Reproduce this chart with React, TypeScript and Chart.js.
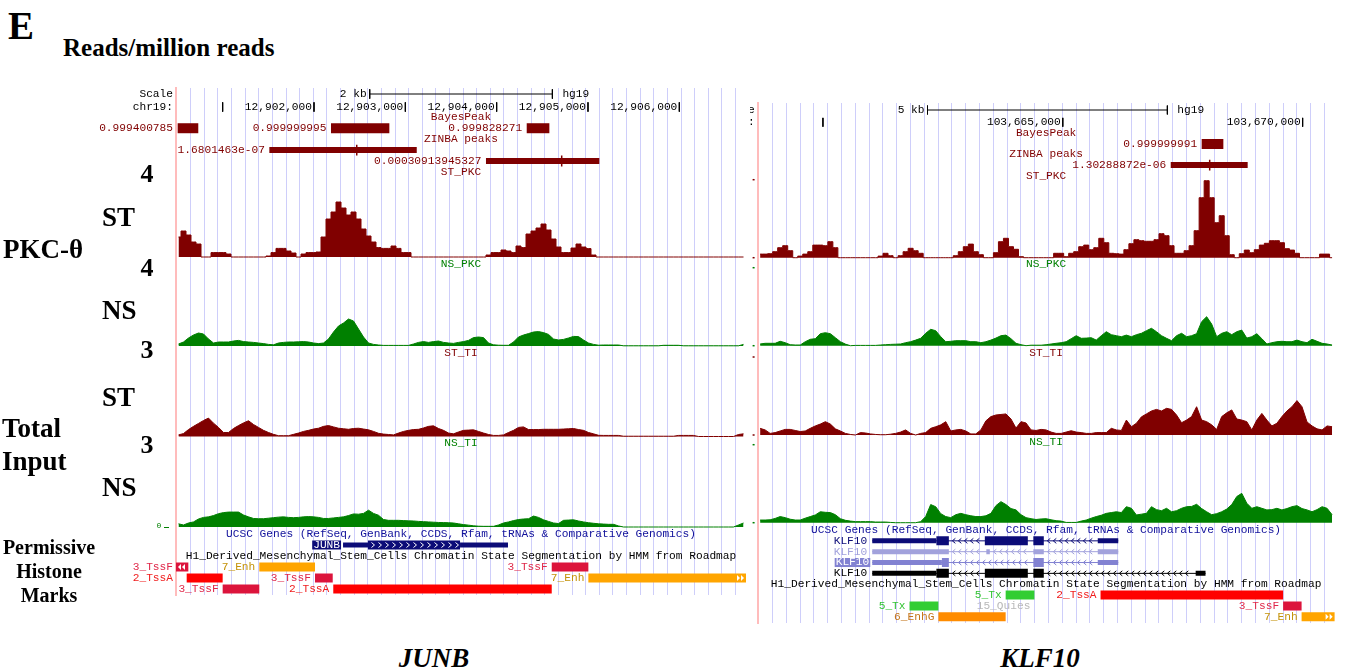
import React, { useEffect, useRef } from "react";
import { Chart, registerables } from "chart.js";

Chart.register(...registerables);

// ================= DATA =================
// ---- Left locus: JUNB (chr19, hg19) ----
const JUNB_CHROM = "chr19:";
const JUNB_VIEW = [12900489, 12906730];
const JUNB_COORD_TICKS = [12901000, 12902000, 12903000, 12904000, 12905000, 12906000];
const JUNB_SCALE_BAR = [12902610, 12904610];
const JUNB_SCALE_LABEL = "2 kb";

// signal values (reads/million), equal bins across the view
const JUNB_ST_PKC = [
  1.0, 1.3, 1.1, 0.75, 0.65, 0, 0, 0.22, 0.22, 0.22,
  0.15, 0, 0, 0, 0, 0, 0, 0, 0.05, 0.22,
  0.43, 0.43, 0.3, 0.2, 0, 0.15, 0.22, 0.22, 0.25, 1.0,
  1.9, 2.25, 2.75, 2.45, 2.1, 2.25, 1.9, 1.4, 1.05, 0.75,
  0.47, 0.43, 0.43, 0.55, 0.43, 0.22, 0.22, 0, 0, 0,
  0, 0, 0, 0, 0, 0, 0, 0, 0, 0,
  0, 0, 0.1, 0.22, 0.22, 0.35, 0.3, 0.22, 0.55, 0.47,
  1.15, 1.3, 1.45, 1.65, 1.35, 0.9, 0.5, 0.22, 0.22, 0.45,
  0.65, 0.5, 0.42, 0.1, 0, 0, 0, 0, 0, 0,
  0, 0, 0, 0, 0, 0, 0, 0, 0, 0,
  0, 0, 0, 0, 0, 0, 0, 0, 0, 0,
  0, 0, 0, 0,
];
const JUNB_NS_PKC = [
  0.1, 0.2, 0.4, 0.55, 0.65, 0.6, 0.35, 0.15, 0.2, 0.2,
  0.2, 0.25, 0.28, 0.22, 0.2, 0.18, 0.15, 0.12, 0.08, 0.06,
  0.15, 0.18, 0.2, 0.2, 0.21, 0.22, 0.2, 0.15, 0.12, 0.15,
  0.35, 0.7, 1.0, 1.15, 1.35, 1.25, 0.85, 0.45, 0.15, 0.08,
  0.05, 0.03, 0.03, 0.03, 0.03, 0.03, 0.03, 0.1, 0.18, 0.22,
  0.18, 0.22, 0.25, 0.18, 0.15, 0.13, 0.18, 0.22, 0.28, 0.42,
  0.45, 0.42, 0.15, 0.06, 0.04, 0.035, 0.035, 0.2, 0.45, 0.55,
  0.62, 0.7, 0.72, 0.67, 0.58, 0.35, 0.3, 0.33, 0.4, 0.48,
  0.47, 0.3, 0.15, 0.08, 0.04, 0.05, 0.05, 0.05, 0.05, 0.01,
  0.01, 0.01, 0.01, 0.01, 0.01, 0.01, 0.01, 0.035, 0.035, 0.035,
  0.035, 0.01, 0.01, 0.01, 0.01, 0.01, 0.01, 0.01, 0.01, 0.01,
  0.01, 0.01, 0.01, 0.08,
];
const JUNB_ST_TI = [
  0.06, 0.11, 0.26, 0.38, 0.49, 0.6, 0.69, 0.5, 0.34, 0.15,
  0.15, 0.3, 0.41, 0.51, 0.59, 0.45, 0.34, 0.23, 0.15, 0.08,
  0.03, 0.03, 0.03, 0.08, 0.13, 0.19, 0.23, 0.28, 0.31, 0.38,
  0.41, 0.36, 0.31, 0.29, 0.27, 0.3, 0.31, 0.28, 0.25, 0.19,
  0.12, 0.09, 0.075, 0.06, 0.13, 0.19, 0.23, 0.26, 0.27, 0.32,
  0.38, 0.4, 0.3, 0.23, 0.13, 0.1, 0.17, 0.23, 0.24, 0.25,
  0.19, 0.13, 0.075, 0.04, 0.04, 0.06, 0.15, 0.23, 0.34, 0.36,
  0.26, 0.26, 0.26, 0.27, 0.27, 0.27, 0.27, 0.28, 0.29, 0.3,
  0.26, 0.23, 0.15, 0.1, 0.045, 0.04, 0.04, 0.04, 0.04, 0.01,
  0.01, 0.01, 0.01, 0.01, 0.01, 0.01, 0.01, 0.01, 0.01, 0.01,
  0.04, 0.04, 0.04, 0.04, 0, 0, 0, 0, 0, 0,
  0, 0, 0.075, 0.1,
];
const JUNB_NS_TI = [
  0.12, 0.075, 0.15, 0.19, 0.3, 0.36, 0.38, 0.43, 0.5, 0.54,
  0.56, 0.56, 0.56, 0.45, 0.38, 0.32, 0.31, 0.31, 0.33, 0.35,
  0.37, 0.38, 0.36, 0.35, 0.36, 0.38, 0.39, 0.38, 0.36, 0.32,
  0.32, 0.34, 0.36, 0.38, 0.43, 0.49, 0.48, 0.51, 0.63, 0.51,
  0.44, 0.28, 0.25, 0.25, 0.25, 0.24, 0.23, 0.225, 0.21, 0.2,
  0.19, 0.18, 0.17, 0.165, 0.16, 0.15, 0.12, 0.09, 0.07, 0.045,
  0.03, 0.025, 0.025, 0.025, 0.075, 0.15, 0.19, 0.24, 0.28, 0.3,
  0.31, 0.41, 0.36, 0.27, 0.21, 0.15, 0.13, 0.25, 0.26, 0.27,
  0.225, 0.19, 0.16, 0.14, 0.12, 0.11, 0.1, 0.1, 0.04, 0,
  0, 0, 0, 0, 0, 0, 0, 0, 0, 0,
  0, 0, 0, 0, 0, 0, 0, 0, 0, 0,
  0, 0, 0.075, 0.15,
];
const JUNB_BAYESPEAK = [
  { start: 12900507, end: 12900733, score: "0.999400785" },
  { start: 12902186, end: 12902825, score: "0.999999995" },
  { start: 12904329, end: 12904577, score: "0.999828271" },
];
const JUNB_ZINBA = [
  { start: 12901511, end: 12903125, summit: 12902468, score: "1.6801463e-07", row: 0 },
  { start: 12903883, end: 12905124, summit: 12904712, score: "0.00030913945327", row: 1 },
];
const JUNB_GENES = [
  { name: "JUNB", kind: "selected", strand: "+", txStart: 12902318, txEnd: 12904124, cdsStart: 12902591, cdsEnd: 12903599, exons: [[12902318, 12904124]] },
];
const JUNB_CHROMHMM = [
  { start: 12900300, end: 12900624, state: "3_TssF", row: 0 },
  { start: 12901401, end: 12902011, state: "7_Enh", row: 0 },
  { start: 12904603, end: 12905004, state: "3_TssF", row: 0 },
  { start: 12900606, end: 12901000, state: "2_TssA", row: 1 },
  { start: 12902011, end: 12902205, state: "3_TssF", row: 1 },
  { start: 12905004, end: 12907000, state: "7_Enh", row: 1 },
  { start: 12901000, end: 12901401, state: "3_TssF", row: 2 },
  { start: 12902211, end: 12904603, state: "2_TssA", row: 2 },
];

// ---- Right locus: KLF10 (chr8, hg19) ----
const KLF10_CHROM = "chr8:";
const KLF10_VIEW = [103658638, 103670666];
const KLF10_COORD_TICKS = [103660000, 103665000, 103670000];
const KLF10_SCALE_BAR = [103662180, 103667180];
const KLF10_SCALE_LABEL = "5 kb";

const KLF10_ST_PKC = [
  0.18, 0.18, 0.2, 0.3, 0.5, 0.6, 0.35, 0, 0.08, 0.18,
  0.3, 0.63, 0.63, 0.6, 0.8, 0.5, 0, 0, 0, 0,
  0, 0, 0, 0, 0.08, 0.22, 0.1, 0, 0.1, 0.3,
  0.47, 0.35, 0.22, 0, 0, 0, 0, 0, 0, 0.1,
  0.3, 0.55, 0.68, 0.3, 0.15, 0, 0, 0.25, 0.8, 0.97,
  0.55, 0.42, 0.05, 0, 0, 0, 0, 0, 0, 0.22,
  0.22, 0.05, 0.22, 0.3, 0.55, 0.63, 0.4, 0.5, 0.97, 0.75,
  0.22, 0.2, 0.18, 0.4, 0.7, 0.9, 0.85, 0.82, 0.82, 0.9,
  1.2, 1.1, 0.6, 0.22, 0.22, 0.35, 0.6, 1.35, 3.0, 3.85,
  3.0, 1.75, 2.1, 1.1, 0.15, 0, 0.2, 0.38, 0.25, 0.4,
  0.63, 0.72, 0.85, 0.85, 0.75, 0.45, 0.38, 0.22, 0, 0,
  0, 0, 0.18, 0.18, 0,
];
const KLF10_NS_PKC = [
  0.085, 0.12, 0.12, 0.12, 0.22, 0.15, 0.05, 0.035, 0.035, 0.2,
  0.32, 0.35, 0.6, 0.65, 0.6, 0.4, 0.2, 0.08, 0, 0.015,
  0.015, 0.015, 0.015, 0.015, 0.035, 0.05, 0.065, 0.075, 0.085, 0.15,
  0.2, 0.28, 0.37, 0.62, 0.82, 0.75, 0.45, 0.2, 0.22, 0.25,
  0.25, 0.25, 0.2, 0.2, 0.15, 0.2, 0.28, 0.38, 0.5, 0.53,
  0.35, 0.12, 0.05, 0, 0.025, 0.025, 0.025, 0.05, 0.085, 0.12,
  0.15, 0.2, 0.35, 0.5, 0.37, 0.38, 0.4, 0.28, 0.5, 0.7,
  0.55, 0.5, 0.45, 0.53, 0.45, 0.55, 0.62, 0.75, 0.87, 0.7,
  0.5, 0.37, 0.25, 0.5, 0.62, 0.45, 0.5, 0.6, 1.2, 1.45,
  1.08, 0.45, 0.62, 0.7, 0.55, 0.7, 0.78, 0.38, 0.45, 0.6,
  0.35, 0.085, 0.15, 0.2, 0.22, 0.2, 0.2, 0.28, 0.2, 0.15,
  0.32, 0.22, 0.12, 0.085, 0.035,
];
const KLF10_ST_TI = [
  0.25, 0.19, 0.06, 0.09, 0.15, 0.21, 0.21, 0.17, 0.13, 0.15,
  0.25, 0.34, 0.41, 0.5, 0.41, 0.23, 0.15, 0.06, 0.02, 0,
  0.09, 0.075, 0.04, 0.02, 0.01, 0.01, 0.03, 0.06, 0.11, 0.19,
  0.06, 0, 0.06, 0.09, 0.25, 0.31, 0.38, 0.5, 0.15, 0.19,
  0.21, 0.15, 0.04, 0.04, 0.19, 0.53, 0.69, 0.75, 0.77, 0.79,
  0.6, 0.26, 0.5, 0.45, 0.19, 0.17, 0.21, 0.19, 0.11, 0.06,
  0.06, 0.11, 0.16, 0.11, 0.09, 0.06, 0.06, 0.09, 0.09, 0.09,
  0.25, 0.19, 0.17, 0.56, 0.31, 0.44, 0.68, 0.79, 0.9, 0.96,
  0.9, 1.0, 0.96, 0.75, 0.46, 0.56, 0.69, 1.06, 0.56, 0.5,
  0.38, 0.21, 0.69, 0.83, 0.94, 0.6, 0.56, 0.5, 0.19, 0.56,
  0.81, 0.56, 0.34, 0.44, 0.69, 0.9, 1.06, 1.29, 1.06, 0.49,
  0.34, 0.23, 0.19, 0.34, 0.31,
];
const KLF10_NS_TI = [
  0.1, 0.1, 0.11, 0.16, 0.23, 0.19, 0.13, 0.1, 0.1, 0.17,
  0.23, 0.29, 0.41, 0.39, 0.38, 0.3, 0.15, 0.09, 0.06, 0.04,
  0.04, 0.04, 0.04, 0.025, 0.025, 0.025, 0.01, 0, 0, 0,
  0, 0, 0.04, 0.23, 0.68, 0.6, 0.34, 0.23, 0.19, 0.3,
  0.35, 0.3, 0.26, 0.23, 0.23, 0.26, 0.35, 0.64, 0.79, 0.68,
  0.53, 0.48, 0.3, 0.19, 0.15, 0.12, 0.14, 0.15, 0.11, 0.075,
  0.06, 0.01, 0.01, 0.01, 0.06, 0.1, 0.17, 0.23, 0.28, 0.35,
  0.38, 0.41, 0.38, 0.6, 0.54, 0.29, 0.32, 0.35, 0.6, 0.49,
  0.45, 0.54, 0.41, 0.45, 0.54, 0.6, 0.61, 0.69, 0.53, 0.41,
  0.3, 0.34, 0.41, 0.51, 0.68, 0.98, 1.1, 0.73, 0.54, 0.6,
  0.54, 0.48, 0.49, 0.54, 0.48, 0.53, 0.6, 0.64, 0.53, 0.48,
  0.41, 0.49, 0.6, 0.54, 0.3,
];
const KLF10_BAYESPEAK = [
  { start: 103667895, end: 103668347, score: "0.999999991" },
];
const KLF10_ZINBA = [
  { start: 103667250, end: 103668854, summit: 103668062, score: "1.30288872e-06", row: 0 },
];
const KLF10_GENES = [
  { name: "KLF10", kind: "coding", strand: "-", txStart: 103661028, txEnd: 103666156, cdsStart: 103662365, cdsEnd: 103664604,
    exons: [[103661028, 103662625], [103663375, 103664271], [103664386, 103664604], [103665729, 103666156]] },
  { name: "KLF10", kind: "noncoding", strand: "-", txStart: 103661028, txEnd: 103666156, cdsStart: 0, cdsEnd: 0,
    exons: [[103661028, 103662625], [103663406, 103663479], [103664386, 103664604], [103665729, 103666156]] },
  { name: "KLF10", kind: "alt", strand: "-", txStart: 103661028, txEnd: 103666156, cdsStart: 103662480, cdsEnd: 103664604,
    exons: [[103661028, 103662625], [103664386, 103664604], [103665729, 103666156]] },
  { name: "KLF10", kind: "refseq", strand: "-", txStart: 103661028, txEnd: 103667975, cdsStart: 103662365, cdsEnd: 103664604,
    exons: [[103661028, 103662625], [103663375, 103664271], [103664386, 103664604], [103667770, 103667975]] },
];
const KLF10_CHROMHMM = [
  { start: 103663809, end: 103664408, state: "5_Tx", row: 0 },
  { start: 103665787, end: 103669593, state: "2_TssA", row: 0 },
  { start: 103661805, end: 103662407, state: "5_Tx", row: 1 },
  { start: 103664408, end: 103665787, state: "15_Quies", row: 1 },
  { start: 103669593, end: 103669978, state: "3_TssF", row: 1 },
  { start: 103662407, end: 103663809, state: "6_EnhG", row: 2 },
  { start: 103669978, end: 103671000, state: "7_Enh", row: 2 },
];

// ================= STYLES =================
const MONO = '11.2px "Liberation Mono", "DejaVu Sans Mono", monospace';
const SERIF = '"Liberation Serif", "Times New Roman", Times, serif';
const MAROON = "#800000";
const GREEN = "#008000";
const GRID = "rgb(206,206,250)";
const PINK = "rgb(255,188,188)";
const NAVY = "#0c0c78";

const STATE_STYLE = {
  "2_TssA": { fill: "#ff0000", text: "#f01e1e" },
  "3_TssF": { fill: "#dc143c", text: "#e0284a" },
  "5_Tx": { fill: "#32cd32", text: "#34c434" },
  "6_EnhG": { fill: "#ff8c00", text: "#c47418" },
  "7_Enh": { fill: "#ffa500", text: "#c49208" },
  "15_Quies": { fill: "rgba(255,255,255,0)", text: "#b9b9b9" },
};
const GENE_STYLE = {
  selected: { color: NAVY, label: "#ffffff", labelBg: NAVY },
  coding: { color: NAVY, label: NAVY, labelBg: null },
  noncoding: { color: "#a2a2dc", label: "#a2a2dc", labelBg: null },
  alt: { color: "#8282d2", label: "#ffffff", labelBg: "#8282d2" },
  refseq: { color: "#000000", label: "#000000", labelBg: null },
};

// ================= LAYOUT (page pixels) =================
const JUNB_LAYOUT = {
  canvas: { left: 90, top: 82, width: 660, height: 520 },
  area: { left: 176, right: 746, top: 88, bottom: 595 },
  grid: { first: 14.7, step: 13.62 },
  ruler: { first: 94, pitch: 13 },
  head: { first: 117.3, pitch: 10.93, bayesTitle: 0, bayesRow: 1, zinbaTitle: 2, zinbaRow: 3, stTitle: 5 },
  tracks: {
    ST_PKC: { base: 257, unit: 20 },
    NS_PKC: { base: 346, unit: 20, title: 264 },
    ST_TI: { base: 436.5, unit: 26.67, title: 353 },
    NS_TI: { base: 527, unit: 26.67, title: 443 },
  },
  foot: { first: 534, pitch: 11, geneRow: 1, hmmTitleRow: 2, hmmRow: 3 },
  zeroLabel: true,
  edgeTicks: false,
};
const KLF10_LAYOUT = {
  canvas: { left: 750, top: 97, width: 597, height: 532 },
  area: { left: 757.6, right: 1334.6, top: 103, bottom: 623 },
  grid: { first: 14.9, step: 13.8 },
  ruler: { first: 110, pitch: 12.3 },
  head: { first: 133.3, pitch: 10.6, bayesTitle: 0, bayesRow: 1, zinbaTitle: 2, zinbaRow: 3, stTitle: 4 },
  tracks: {
    ST_PKC: { base: 257.7, unit: 20 },
    NS_PKC: { base: 345.7, unit: 20, title: 264.3 },
    ST_TI: { base: 435, unit: 26.67, title: 353.3 },
    NS_TI: { base: 522.7, unit: 26.67, title: 441.7 },
  },
  foot: { first: 530, pitch: 10.84, geneRow: 1, hmmTitleRow: 5, hmmRow: 6 },
  zeroLabel: false,
  edgeTicks: true,
};

const JUNB_PANEL = {
  key: "junb", chrom: JUNB_CHROM, view: JUNB_VIEW, coordTicks: JUNB_COORD_TICKS,
  scaleBar: JUNB_SCALE_BAR, scaleLabel: JUNB_SCALE_LABEL,
  signals: { ST_PKC: JUNB_ST_PKC, NS_PKC: JUNB_NS_PKC, ST_TI: JUNB_ST_TI, NS_TI: JUNB_NS_TI },
  bayes: JUNB_BAYESPEAK, zinba: JUNB_ZINBA, genes: JUNB_GENES, hmm: JUNB_CHROMHMM, layout: JUNB_LAYOUT,
};
const KLF10_PANEL = {
  key: "klf10", chrom: KLF10_CHROM, view: KLF10_VIEW, coordTicks: KLF10_COORD_TICKS,
  scaleBar: KLF10_SCALE_BAR, scaleLabel: KLF10_SCALE_LABEL,
  signals: { ST_PKC: KLF10_ST_PKC, NS_PKC: KLF10_NS_PKC, ST_TI: KLF10_ST_TI, NS_TI: KLF10_NS_TI },
  bayes: KLF10_BAYESPEAK, zinba: KLF10_ZINBA, genes: KLF10_GENES, hmm: KLF10_CHROMHMM, layout: KLF10_LAYOUT,
};

const TRACKS = [
  { key: "ST_PKC", axis: "stpkc", color: MAROON, stepped: true },
  { key: "NS_PKC", axis: "nspkc", color: GREEN, stepped: false },
  { key: "ST_TI", axis: "stti", color: MAROON, stepped: false },
  { key: "NS_TI", axis: "nsti", color: GREEN, stepped: false },
];

// ================= CHART BUILDING =================
function buildDatasets(p: any) {
  const L = p.layout;
  const ds: any[] = [];
  const seg = (x0: number, x1: number, y: number, axis: string, color: string, w: number) =>
    ds.push({ type: "line", data: [{ x: x0, y }, { x: x1, y }], yAxisID: axis, borderColor: color,
      backgroundColor: color, borderWidth: w, borderCapStyle: "butt", pointRadius: 0, fill: false });
  const vseg = (x: number, y0: number, y1: number, axis: string, color: string, w: number) =>
    ds.push({ type: "line", data: [{ x, y: y0 }, { x, y: y1 }], yAxisID: axis, borderColor: color,
      borderWidth: w, borderCapStyle: "butt", pointRadius: 0, fill: false });

  // ruler
  seg(p.scaleBar[0], p.scaleBar[1], 0, "ruler", "#000", 1);
  vseg(p.scaleBar[0], -0.36, 0.36, "ruler", "#000", 1);
  vseg(p.scaleBar[1], -0.36, 0.36, "ruler", "#000", 1);
  p.coordTicks.forEach((t: number) => vseg(t, 0.64, 1.36, "ruler", "#000", 1));

  // peak calls
  p.bayes.forEach((b: any) => seg(b.start, b.end, L.head.bayesRow, "head", MAROON, 10));
  p.zinba.forEach((z: any) => {
    const r = L.head.zinbaRow + z.row;
    seg(z.start, z.end, r, "head", MAROON, 6);
    vseg(z.summit, r - 0.5, r + 0.5, "head", MAROON, 1.5);
  });

  // signal tracks
  TRACKS.forEach((t) => {
    const vals = p.signals[t.key];
    const n = vals.length;
    const w = (p.view[1] - p.view[0]) / n;
    ds.push({
      type: "line",
      data: vals.map((v: number, i: number) => ({ x: p.view[0] + (i + 0.5) * w, y: v })),
      yAxisID: t.axis, borderColor: t.color, backgroundColor: t.color, borderWidth: 1,
      pointRadius: 0, fill: "origin", stepped: t.stepped ? "middle" : false, tension: 0,
    });
  });

  // genes
  p.genes.forEach((g: any, i: number) => {
    const row = L.foot.geneRow + i;
    const st = (GENE_STYLE as any)[g.kind];
    seg(g.txStart, g.txEnd, row, "foot", st.color, 1);
    g.exons.forEach(([a, b]: number[]) => {
      const cs = g.cdsStart, ce = g.cdsEnd;
      if (ce <= cs || b <= cs || a >= ce) { seg(a, b, row, "foot", st.color, 5); return; }
      if (a < cs) seg(a, cs, row, "foot", st.color, 5);
      seg(Math.max(a, cs), Math.min(b, ce), row, "foot", st.color, 9);
      if (b > ce) seg(ce, b, row, "foot", st.color, 5);
    });
  });

  // chromatin states
  p.hmm.forEach((h: any) => seg(h.start, h.end, L.foot.hmmRow + h.row, "foot", (STATE_STYLE as any)[h.state].fill, 9));
  return ds;
}

function chevron(ctx: CanvasRenderingContext2D, x: number, y: number, dir: number) {
  ctx.beginPath();
  ctx.moveTo(x - 1.5 * dir, y - 2.5);
  ctx.lineTo(x + 1.5 * dir, y);
  ctx.lineTo(x - 1.5 * dir, y + 2.5);
  ctx.stroke();
}
function tri(ctx: CanvasRenderingContext2D, x: number, y: number, dir: number) {
  ctx.beginPath();
  ctx.moveTo(x, y - 3);
  ctx.lineTo(x + 3 * dir, y);
  ctx.lineTo(x, y + 3);
  ctx.closePath();
  ctx.fill();
}

function overlayPlugin(p: any) {
  const L = p.layout;
  return {
    id: "overlay_" + p.key,
    afterDatasetsDraw(chart: any) {
      const ctx: CanvasRenderingContext2D = chart.ctx;
      const a = chart.chartArea;
      const sx = chart.scales.x;
      const X = (g: number) => sx.getPixelForValue(g);
      const Y = (id: string, v: number) => chart.scales[id].getPixelForValue(v);
      const py = (y: number) => y - L.canvas.top;
      const mid = (a.left + a.right) / 2;
      ctx.save();
      ctx.font = MONO;
      ctx.textBaseline = "middle";
      const put = (s: string, x: number, y: number, color: string, align?: string) => {
        ctx.fillStyle = color;
        ctx.textAlign = (align || "left") as CanvasTextAlign;
        ctx.fillText(s, x, y);
      };
      const before = (s: string, startPx: number, y: number, color: string, gap: number) => {
        const w = ctx.measureText(s).width;
        let right = Math.max(startPx, a.left) - gap;
        if (right - w < a.left) right = a.left - 3;
        put(s, right, y, color, "right");
      };

      // ruler
      const r0 = Y("ruler", 0), r1 = Y("ruler", 1);
      put("Scale", a.left - 3, r0, "#000", "right");
      put(p.chrom, a.left - 3, r1, "#000", "right");
      put(p.scaleLabel, X(p.scaleBar[0]) - 3, r0, "#000", "right");
      put("hg19", X(p.scaleBar[1]) + 10, r0, "#000");
      p.coordTicks.forEach((t: number) => {
        const s = t.toLocaleString("en-US");
        const x = X(t) - 2;
        if (x - ctx.measureText(s).width >= a.left) put(s, x, r1, "#000", "right");
      });

      // header titles + peak labels
      put("BayesPeak", mid, Y("head", L.head.bayesTitle), MAROON, "center");
      put("ZINBA peaks", mid, Y("head", L.head.zinbaTitle), MAROON, "center");
      put("ST_PKC", mid, Y("head", L.head.stTitle), MAROON, "center");
      p.bayes.forEach((b: any) => before(b.score, X(b.start), Y("head", L.head.bayesRow), MAROON, 4.5));
      p.zinba.forEach((z: any) => before(z.score, X(z.start), Y("head", L.head.zinbaRow + z.row), MAROON, 4.5));

      // track titles
      put("NS_PKC", mid, py(L.tracks.NS_PKC.title), GREEN, "center");
      put("ST_TI", mid, py(L.tracks.ST_TI.title), MAROON, "center");
      put("NS_TI", mid, py(L.tracks.NS_TI.title), GREEN, "center");

      // edge marks of the track scales
      if (L.edgeTicks) {
        ctx.lineWidth = 1.5;
        TRACKS.forEach((t) => {
          const ax = chart.scales[t.axis];
          ctx.strokeStyle = t.color;
          [ax.getPixelForValue(0), py(L.tracks[t.key].base - 78)].forEach((y: number) => {
            ctx.beginPath(); ctx.moveTo(a.left - 5, y); ctx.lineTo(a.left - 3, y); ctx.stroke();
          });
        });
      }
      if (L.zeroLabel) {
        const y0 = chart.scales.nsti.getPixelForValue(0);
        ctx.save();
        ctx.font = '8px "Liberation Mono", monospace';
        put("0", a.left - 17, y0 - 1, GREEN, "center");
        ctx.strokeStyle = GREEN; ctx.lineWidth = 1;
        ctx.beginPath(); ctx.moveTo(a.left - 12, y0 + 0.5); ctx.lineTo(a.left - 7, y0 + 0.5); ctx.stroke();
        ctx.restore();
      }

      // gene track
      put("UCSC Genes (RefSeq, GenBank, CCDS, Rfam, tRNAs & Comparative Genomics)", mid, Y("foot", 0), "#10109a", "center");
      p.genes.forEach((g: any, i: number) => {
        const st = (GENE_STYLE as any)[g.kind];
        const y = Y("foot", L.foot.geneRow + i);
        const w = ctx.measureText(g.name).width;
        const right = X(g.txStart) - (st.labelBg ? 3 : 5);
        if (st.labelBg) {
          ctx.fillStyle = st.labelBg;
          ctx.fillRect(right - w - 1, y - 4.5, w + 2, 9);
        }
        put(g.name, right, y, st.label, "right");
        ctx.lineWidth = 1;
        if (g.strand === "+") {
          ctx.strokeStyle = "#ffffff";
          const x0 = X(g.cdsStart), x1 = X(g.cdsEnd);
          for (let x = x0 + 5; x < x1 - 2; x += 7) chevron(ctx, x, y, 1);
        } else {
          ctx.strokeStyle = st.color;
          for (let k = 0; k + 1 < g.exons.length; k++) {
            const x0 = X(g.exons[k][1]), x1 = X(g.exons[k + 1][0]);
            for (let x = x0 + 5; x < x1 - 3; x += 6) chevron(ctx, x, y, -1);
          }
        }
      });

      // chromatin state track
      put("H1_Derived_Mesenchymal_Stem_Cells Chromatin State Segmentation by HMM from Roadmap", mid, Y("foot", L.foot.hmmTitleRow), "#000", "center");
      p.hmm.forEach((h: any) => {
        const st = (STATE_STYLE as any)[h.state];
        const y = Y("foot", L.foot.hmmRow + h.row);
        before(h.state, X(h.start), y, st.text, 4);
        ctx.fillStyle = "#ffffff";
        if (h.start < p.view[0]) { tri(ctx, a.left + 5, y, -1); tri(ctx, a.left + 9, y, -1); }
        if (h.end > p.view[1]) { tri(ctx, a.right - 9, y, 1); tri(ctx, a.right - 5, y, 1); }
      });
      ctx.restore();
    },
  };
}

function makeChart(canvas: HTMLCanvasElement, p: any) {
  const L = p.layout;
  const A = L.area, C = L.canvas;
  const areaW = A.right - A.left;
  const gridVals: number[] = [];
  for (let off = L.grid.first; off < areaW - 0.5; off += L.grid.step) {
    gridVals.push(p.view[0] + (off / areaW) * (p.view[1] - p.view[0]));
  }
  const rowAxis = (g: any) => ({
    type: "linear", axis: "y", position: "left", display: false, reverse: true,
    min: (A.top - g.first) / g.pitch, max: (A.bottom - g.first) / g.pitch,
  });
  const sigAxis = (t: any) => ({
    type: "linear", axis: "y", position: "left", display: false,
    min: -(A.bottom - t.base) / t.unit, max: (t.base - A.top) / t.unit,
  });
  return new Chart(canvas, {
    type: "line",
    data: { datasets: buildDatasets(p) },
    options: {
      animation: false,
      responsive: false,
      devicePixelRatio: 1,
      events: [],
      layout: {
        padding: {
          left: A.left - C.left,
          right: C.left + C.width - A.right,
          top: A.top - C.top,
          bottom: C.top + C.height - A.bottom,
        },
      },
      plugins: { legend: { display: false }, tooltip: { enabled: false } },
      scales: {
        x: {
          type: "linear", position: "bottom", min: p.view[0], max: p.view[1],
          border: { display: false },
          grid: { color: GRID, lineWidth: 1, drawTicks: false },
          ticks: { display: false },
          afterBuildTicks: (axis: any) => { axis.ticks = gridVals.map((v) => ({ value: v })); },
        },
        edge: {
          type: "linear", axis: "y", position: "left", display: true, min: 0, max: 1,
          grid: { display: false, drawTicks: false }, ticks: { display: false },
          border: { display: true, color: PINK, width: 2 },
        },
        ruler: rowAxis(L.ruler),
        head: rowAxis(L.head),
        foot: rowAxis(L.foot),
        stpkc: sigAxis({ ...L.tracks.ST_PKC }),
        nspkc: sigAxis({ ...L.tracks.NS_PKC }),
        stti: sigAxis({ ...L.tracks.ST_TI }),
        nsti: sigAxis({ ...L.tracks.NS_TI }),
      },
    } as any,
    plugins: [overlayPlugin(p)],
  } as any);
}

// ================= FIGURE LABELS =================
const FIG_TEXT = [
  { s: "E", x: 8, y: 25, size: 39, align: "left" },
  { s: "Reads/million reads", x: 63, y: 46.5, size: 25, align: "left" },
  { s: "4", x: 153.5, y: 174, size: 26, align: "right" },
  { s: "ST", x: 102, y: 217, size: 27, align: "left" },
  { s: "PKC-θ", x: 3, y: 249, size: 27, align: "left" },
  { s: "4", x: 153.5, y: 268, size: 26, align: "right" },
  { s: "NS", x: 102, y: 310, size: 27, align: "left" },
  { s: "3", x: 153.5, y: 350, size: 26, align: "right" },
  { s: "ST", x: 102, y: 397, size: 27, align: "left" },
  { s: "Total", x: 2, y: 428, size: 27, align: "left" },
  { s: "3", x: 153.5, y: 445, size: 26, align: "right" },
  { s: "Input", x: 2, y: 461, size: 27, align: "left" },
  { s: "NS", x: 102, y: 487, size: 27, align: "left" },
  { s: "Permissive", x: 49, y: 547, size: 20, align: "center" },
  { s: "Histone", x: 49, y: 571, size: 20, align: "center" },
  { s: "Marks", x: 49, y: 595, size: 20, align: "center" },
  { s: "JUNB", x: 434, y: 658, size: 27, align: "center", italic: true },
  { s: "KLF10", x: 1040, y: 658, size: 27, align: "center", italic: true },
];

const PAGE_W = 1351;
const PAGE_H = 672;

export default function App() {
  const leftRef = useRef<HTMLCanvasElement>(null);
  const rightRef = useRef<HTMLCanvasElement>(null);

  useEffect(() => {
    const c1 = makeChart(leftRef.current as HTMLCanvasElement, JUNB_PANEL);
    const c2 = makeChart(rightRef.current as HTMLCanvasElement, KLF10_PANEL);
    return () => {
      c1.destroy();
      c2.destroy();
    };
  }, []);

  const canvasStyle = (c: any): React.CSSProperties => ({
    position: "absolute", left: c.left, top: c.top, width: c.width, height: c.height, display: "block",
  });

  return (
    <div style={{ position: "absolute", left: 0, top: 0, width: PAGE_W, height: PAGE_H, background: "#ffffff", overflow: "hidden" }}>
      <canvas ref={leftRef} width={JUNB_LAYOUT.canvas.width} height={JUNB_LAYOUT.canvas.height} style={canvasStyle(JUNB_LAYOUT.canvas)} />
      <canvas ref={rightRef} width={KLF10_LAYOUT.canvas.width} height={KLF10_LAYOUT.canvas.height} style={canvasStyle(KLF10_LAYOUT.canvas)} />
      {FIG_TEXT.map((t, i) => {
        const st: React.CSSProperties = {
          position: "absolute", top: t.y, fontFamily: SERIF, fontWeight: "bold",
          fontStyle: t.italic ? "italic" : "normal", fontSize: t.size, lineHeight: 1,
          whiteSpace: "nowrap", color: "#000",
        };
        if (t.align === "right") { st.right = PAGE_W - t.x; st.transform = "translateY(-50%)"; }
        else if (t.align === "center") { st.left = t.x; st.transform = "translate(-50%, -50%)"; }
        else { st.left = t.x; st.transform = "translateY(-50%)"; }
        return <div key={i} style={st}>{t.s}</div>;
      })}
    </div>
  );
}
